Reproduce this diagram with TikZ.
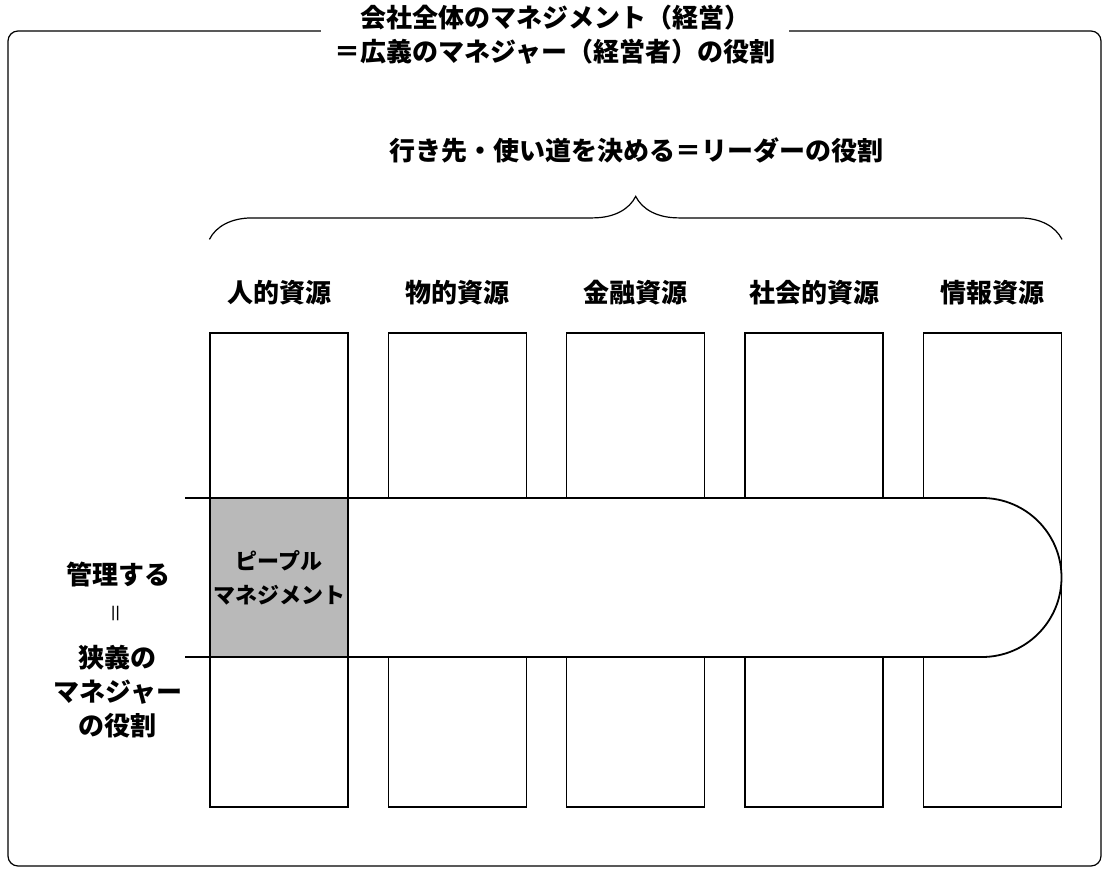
\documentclass[tikz,border=0pt]{standalone}
\usepackage{fontspec}
\setmainfont{Noto Sans CJK JP}
\usetikzlibrary{positioning}
\usetikzlibrary{decorations.pathreplacing}
\tikzset{colbox/.style = {draw, line width=1.2pt, minimum width=138pt, minimum height=474pt, inner sep=0}}
\tikzset{lab/.style = {font=\bfseries\fontsize{26}{34}\selectfont, align=center, inner sep=0}}
\tikzset{band/.style = {line width=1.8pt}}
\tikzset{brc/.style = {decoration={brace, amplitude=43pt}, decorate, line width=1.2pt}}

\begin{document}
\begin{tikzpicture}[x=1pt, y=-1pt]
      \useasboundingbox (0,0) rectangle (1109,875);
      \draw [line width=1.2pt, rounded corners=10pt] (8,31) rectangle (1101,866);
      \node [lab, fill=white, inner xsep=14pt, inner ysep=2pt] (title) at (555,35)
            {会社全体のマネジメント（経営）\\＝広義のマネジャー（経営者）の役割};
      \node [lab] (leader) at (636,150) {行き先・使い道を決める＝リーダーの役割};

      \foreach \name [count=\i] in {人的資源, 物的資源, 金融資源, 社会的資源, 情報資源} {
        \node [colbox] (c\i) at ({279 + 178.35*(\i-1)}, 570) {};
        \node [lab] (l\i) at ([yshift=40pt]c\i.north) {\name};
      }
      \draw [brc] ([yshift=93pt]c1.north west) -- ([yshift=93pt]c5.north east);

      \fill [white] (185,498) -- (982,498) arc [start angle=-90, end angle=90, radius=79.5] -- (185,657) -- cycle;
      \node [draw, line width=1.2pt, fill=gray!55, minimum width=138pt, minimum height=159pt, inner sep=0,
             font=\bfseries\fontsize{22}{34}\selectfont, align=center] (pm) at (279,577.5) {ピープル\\マネジメント};
      \draw [band] (185,498) -- (982,498) arc [start angle=-90, end angle=90, radius=79.5] -- (185,657);

      \node [lab] (ctrl) at (118,575) {管理する};
      \node [rotate=90, inner sep=0, font=\fontsize{20}{20}\selectfont] (eq) at (118,613) {＝};
      \node [lab] (narrow) at (118,692) {狭義の\\マネジャー\\の役割};
    \end{tikzpicture}
\end{document}
